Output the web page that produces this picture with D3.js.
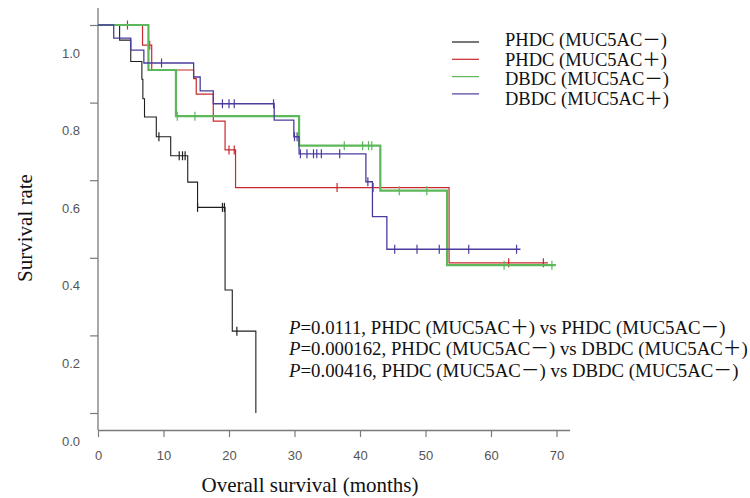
<!DOCTYPE html>
<html>
<head>
<meta charset="utf-8">
<script src="https://cdn.jsdelivr.net/npm/d3@7"></script>
<style>
  body { margin: 0; background: #fff; }
  .tick text { font-family: "Liberation Sans", Arial, sans-serif; font-size: 13px; fill: #555; }
  .serif { font-family: "Liberation Serif", "Times New Roman", "Noto Sans CJK SC", serif; fill: #111; }
</style>
</head>
<body>
<svg id="chart" width="750" height="498"></svg>
<script>
// Kaplan-Meier steps: [month, survival after the drop]
const blackSteps = [[0, 1], [3.3, 0.961], [5.0, 0.906], [6.7, 0.86], [6.85, 0.81], [7.1, 0.763],
  [8.9, 0.712], [11.1, 0.663], [13.7, 0.595], [15.2, 0.530], [19.4, 0.317], [20.5, 0.211], [24.1, 0]];
const blackCensor = [9.3, 12.4, 12.9, 13.3, 15.2, 19.0, 19.3, 21.2];

const redSteps = [[0, 1], [6.8, 0.948], [8.2, 0.884], [14.6, 0.862], [15.0, 0.822], [17.6, 0.752],
  [19.4, 0.678], [21.0, 0.581], [53.6, 0.387], [68.7, 0.387]];
const redCensor = [4.5, 7.9, 20.0, 20.8, 36.5, 42.0, 62.7, 68.0];

const greenSteps = [[0, 1], [7.7, 0.884], [11.9, 0.765], [30.7, 0.689], [43.1, 0.573], [53.3, 0.381], [69.9, 0.381]];
const greenCensor = [12.1, 14.8, 37.6, 40.4, 41.3, 41.8, 46.0, 50.2, 62.0, 69.3];

const blueSteps = [[0, 1], [2.4, 0.966], [5.0, 0.935], [7.0, 0.902], [14.6, 0.866], [15.6, 0.830],
  [17.6, 0.797], [26.9, 0.755], [29.9, 0.712], [30.7, 0.668], [40.9, 0.596], [41.9, 0.506],
  [44.1, 0.422], [64.5, 0.422]];
const blueCensor = [9.7, 19.0, 20.0, 20.8, 26.8, 30.0, 30.4, 30.9, 31.9, 32.9, 33.4, 34.1, 36.9,
  41.2, 45.3, 48.7, 52.1, 56.6, 63.9];

const groupNames = ['PHDC (MUC5AC－)', 'PHDC (MUC5AC＋)', 'DBDC (MUC5AC－)', 'DBDC (MUC5AC＋)'];
const pValueLines = [
  ['0.0111', 'PHDC (MUC5AC＋) vs PHDC (MUC5AC－)'],
  ['0.000162', 'PHDC (MUC5AC－) vs DBDC (MUC5AC＋)'],
  ['0.00416', 'PHDC (MUC5AC－) vs DBDC (MUC5AC－)']
];
const xTicks = [0, 10, 20, 30, 40, 50, 60, 70];
const yTicks = [0, 0.2, 0.4, 0.6, 0.8, 1.0];

const series = [
  {steps: blackSteps, censor: blackCensor, color: '#1e1e1e', width: 1.1},
  {steps: redSteps, censor: redCensor, color: '#c9282d', width: 1.2},
  {steps: greenSteps, censor: greenCensor, color: '#5cb85a', width: 2.2},
  {steps: blueSteps, censor: blueCensor, color: '#4a3d9e', width: 1.3}
];

const svg = d3.select('#chart');

const xScale = d3.scaleLinear().domain([0, 72]).range([98, 569.6]);
const yScale = d3.scaleLinear().domain([0, 1]).range([413, 25]);
const axisColor = '#7a7a7a';

//x axis
const xAxisG = svg.append('g')
  .attr('transform', 'translate(0,430)')
  .call(d3.axisBottom(xScale).tickValues(xTicks).tickFormat(d3.format('d')).tickSize(7).tickSizeOuter(0));
xAxisG.select('.domain').attr('stroke', axisColor).attr('stroke-width', 1.3);
xAxisG.selectAll('.tick line').attr('stroke', axisColor).attr('stroke-width', 1.2);
xAxisG.selectAll('.tick text').attr('y', 21);

//y axis, labels sit lower than their ticks as in the original
const yAxisG = svg.append('g')
  .attr('transform', 'translate(98,0)')
  .call(d3.axisLeft(yScale).tickValues(yTicks).tickFormat(d3.format('.1f')).tickSize(8));
yAxisG.select('.domain').remove();
yAxisG.selectAll('.tick line').attr('stroke', axisColor).attr('stroke-width', 1.2);
yAxisG.selectAll('.tick text').attr('x', -18).attr('y', 28);
svg.append('line')
  .attr('x1', 98).attr('x2', 98).attr('y1', 8).attr('y2', 430)
  .attr('stroke', axisColor).attr('stroke-width', 1.3);

//survival curves
const line = d3.line()
  .x(d => xScale(d[0]))
  .y(d => yScale(d[1]))
  .curve(d3.curveStepAfter);

const survivalAt = (steps, t) => {
  let s = steps[0][1];
  steps.forEach(d => { if (d[0] <= t) s = d[1]; });
  return s;
};

series.forEach(s => {
  svg.append('path')
    .attr('d', line(s.steps))
    .attr('fill', 'none')
    .attr('stroke', s.color)
    .attr('stroke-width', s.width);

  svg.selectAll(null).data(s.censor).enter().append('line')
    .attr('x1', d => xScale(d)).attr('x2', d => xScale(d))
    .attr('y1', d => yScale(survivalAt(s.steps, d)) - 4.5)
    .attr('y2', d => yScale(survivalAt(s.steps, d)) + 4.5)
    .attr('stroke', s.color)
    .attr('stroke-width', 1.2);
});

//legend
const legendLineY = [42, 59.3, 76.6, 93.9];
const legendTextY = [46, 65.5, 85, 104.5];
groupNames.forEach((name, i) => {
  svg.append('line')
    .attr('x1', 452).attr('x2', 479)
    .attr('y1', legendLineY[i]).attr('y2', legendLineY[i])
    .attr('stroke', series[i].color)
    .attr('stroke-width', 1.2);
  svg.append('text')
    .attr('class', 'serif')
    .attr('x', 505).attr('y', legendTextY[i])
    .attr('font-size', 18.5)
    .text(name);
});

//p values
pValueLines.forEach((p, i) => {
  const t = svg.append('text')
    .attr('class', 'serif')
    .attr('x', 289).attr('y', 333.5 + i * 21.7)
    .attr('font-size', 18.8);
  t.append('tspan').attr('font-style', 'italic').text('P');
  t.append('tspan').text('=' + p[0] + ', ' + p[1]);
});

//axis titles
svg.append('text')
  .attr('class', 'serif')
  .attr('x', 310).attr('y', 492)
  .attr('text-anchor', 'middle')
  .attr('font-size', 21)
  .text('Overall survival (months)');

svg.append('text')
  .attr('class', 'serif')
  .attr('transform', 'translate(32,228) rotate(-90)')
  .attr('text-anchor', 'middle')
  .attr('font-size', 21)
  .text('Survival rate');
</script>
</body>
</html>
